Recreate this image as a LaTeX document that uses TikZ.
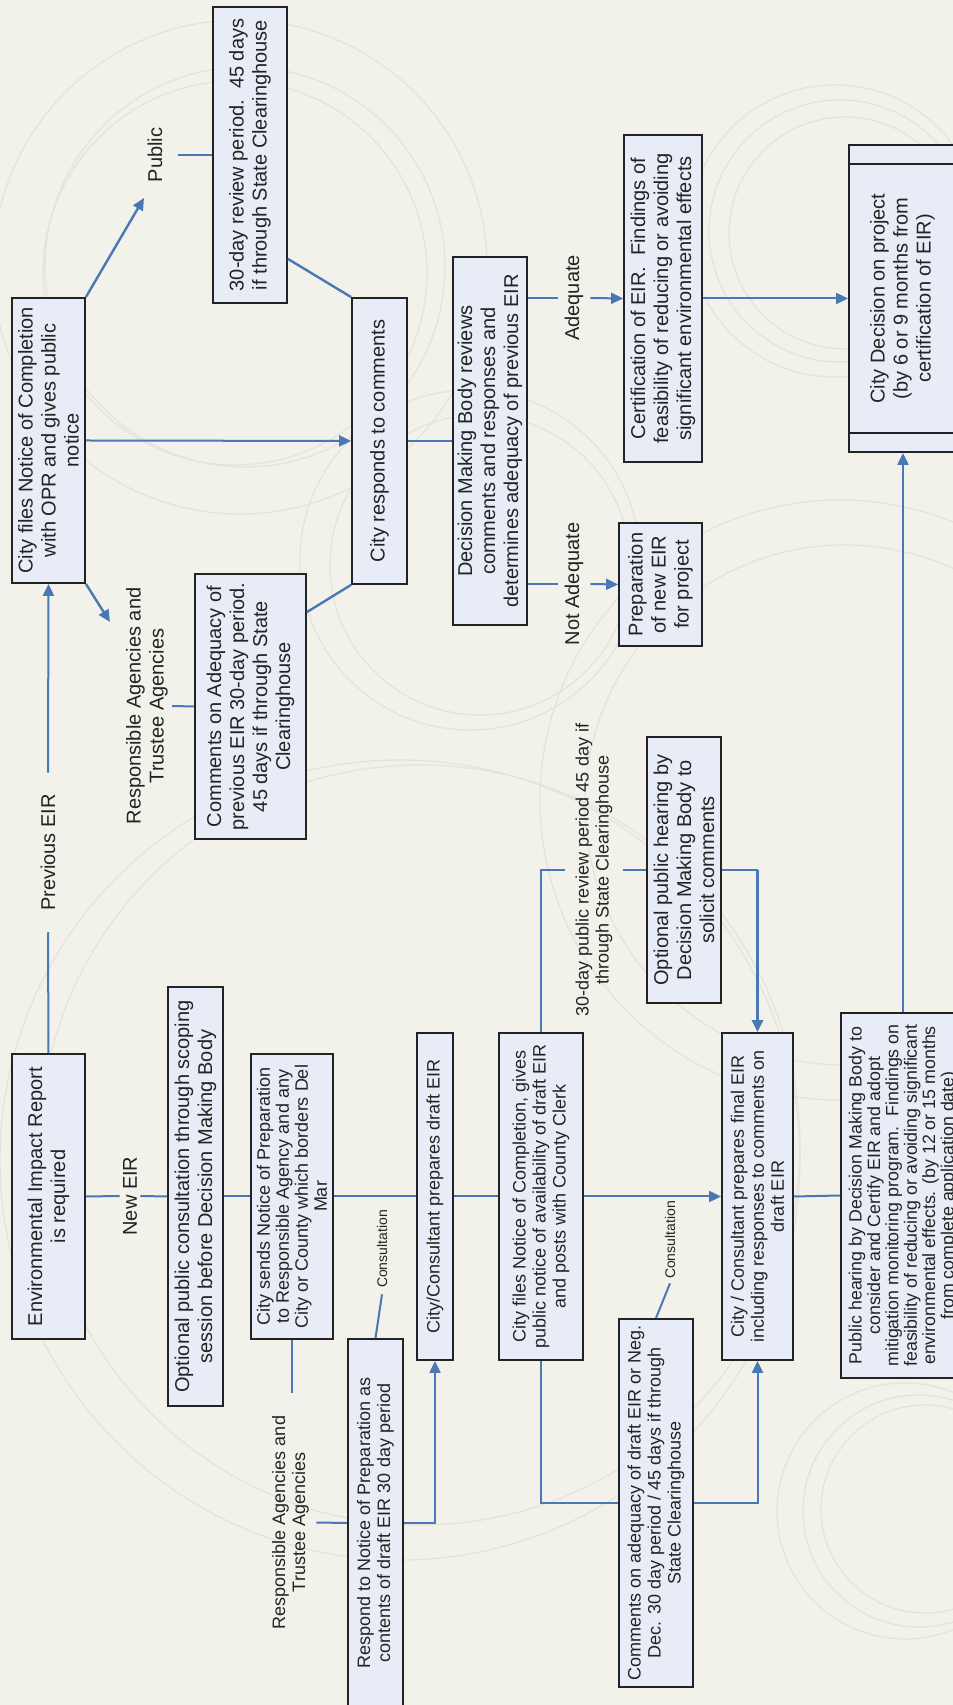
\documentclass[tikz,border=0pt]{standalone}
\usepackage{fontspec}
\setmainfont{Liberation Sans}
\usetikzlibrary{arrows.meta,calc}

\definecolor{paper}{RGB}{242,242,234}
\definecolor{boxfill}{RGB}{231,236,246}
\definecolor{boxline}{RGB}{35,35,35}
\definecolor{linkblue}{RGB}{74,120,180}
\definecolor{ring}{RGB}{228,228,220}
\definecolor{ink}{RGB}{35,35,35}

\begin{document}
\begin{tikzpicture}[x=0.5pt,y=0.5pt,
  sz/.style 2 args={minimum width=#1*0.5pt, minimum height=#2*0.5pt},
  box/.style={draw=boxline, fill=boxfill, line width=0.9pt, align=center, inner sep=0pt, text=ink},
  big/.style={font=\fontsize{10}{11.5}\selectfont},
  mid/.style={font=\fontsize{9}{10}\selectfont},
  lab/.style={inner sep=0pt, align=center, text=ink, font=\fontsize{10}{11.5}\selectfont},
  link/.style={draw=linkblue, line width=1pt},
  arr/.style={link, -{Triangle[length=6pt,width=5.5pt]}},
  ringline/.style={draw=ring, line width=0.65pt}]

\useasboundingbox (0,0) rectangle (953,1705);
\fill[paper] (0,0) rectangle (953,1705);
\clip (0,0) rectangle (953,1705);

% faint decorative rings in the background
\draw[ringline] (240,1438) circle (247);
\draw[ringline] (245,1438) circle (200);
\draw[ringline] (235,1432) circle (192);
\draw[ringline] (835,1474) circle (146);
\draw[ringline] (840,1474) circle (131);
\draw[ringline] (845,1472) circle (116);
\draw[ringline] (905,194) circle (128);
\draw[ringline] (919,194) circle (116);
\draw[ringline] (925,196) circle (104);
\draw[ringline] (400,545) circle (400);
\draw[ringline] (420,560) circle (380);
\draw[ringline] (840,905) circle (300);
\draw[ringline] (845,900) circle (260);
\draw[ringline] (470,1145) circle (170);
\draw[ringline] (480,1140) circle (150);

% the flow chart is laid out landscape and turned upright
\begin{scope}[rotate=90, transform shape]

% ---- process boxes
\node[box,big,sz={285}{73}] (cityOPR) at (1264.5,-48.5) {City files Notice of Completion\\with OPR and gives public\\notice};
\node[box,big,sz={296}{74}] (review30) at (1550,-250) {30-day review period.\ \ 45 days\\if through State Clearinghouse};
\node[box,big,sz={286}{55}] (responds) at (1264,-379.5) {City responds to comments};
\node[box,big,sz={368}{74}] (decision) at (1264,-490) {Decision Making Body reviews\\comments and responses and\\determines adequacy of previous EIR};
\node[box,big,sz={327}{78}] (cert) at (1406.5,-663) {Certification of EIR.\ \ Findings of\\feasibility of reducing or avoiding\\significant environmental effects};
\node[box,big,sz={307}{107}] (cityDecision) at (1406.5,-902.5) {City Decision on project\\(by 6 or 9 months from\\certification of EIR)};
\draw[boxline, line width=0.9pt] ($(cityDecision.south west)+(20,0)$) -- ($(cityDecision.north west)+(20,0)$);
\draw[boxline, line width=0.9pt] ($(cityDecision.south east)+(-20,0)$) -- ($(cityDecision.north east)+(-20,0)$);
\node[box,big,sz={265}{111}] (commentsPrev) at (998.5,-250.5) {Comments on Adequacy of\\previous EIR 30-day period.\\45 days if through State\\Clearinghouse};
\node[box,big,sz={123}{83}] (prep) at (1120.5,-660.5) {Preparation\\of new EIR\\for project};
\node[box,big,sz={266}{74}] (optHearing) at (835,-684) {Optional public hearing by\\Decision Making Body to\\solicit comments};
\node[box,mid,sz={327}{84}] (filesDraft) at (508.5,-541) {City files Notice of Completion, gives\\public notice of availability of draft EIR\\and posts with County Clerk};
\node[box,mid,sz={327}{71}] (finalEIR) at (508.5,-757.5) {City / Consultant prepares final EIR\\including responses to comments on\\draft EIR};
\node[box,font=\fontsize{8.9}{9.2}\selectfont,sz={365}{124}] (hearing) at (509.5,-903) {Public hearing by Decision Making Body to\\consider and Certify EIR and adopt\\mitigation monitoring program.\ \ Findings on\\feasibility of reducing or avoiding significant\\environmental effects. (by 12 or 15 months\\from complete application date)};
\node[box,mid,sz={368}{74}] (commentsDraft) at (202,-656) {Comments on adequacy of draft EIR or Neg.\\Dec. 30 day period / 45 days if through\\State Clearinghouse};
\node[box,big,sz={285}{73}] (eir) at (508.5,-48.5) {Environmental Impact Report\\is required};
\node[box,big,sz={419}{55}] (optConsult) at (508.5,-195.5) {Optional public consultation through scoping\\session before Decision Making Body};
\node[box,font=\fontsize{9}{9.5}\selectfont,sz={285}{82}] (sendsNOP) at (508.5,-292) {City sends Notice of Preparation\\to Responsible Agency and any\\City or County which borders Del\\Mar};
\node[box,mid,sz={327}{36}] (draftEIR) at (508.5,-435) {City/Consultant prepares draft EIR};
\node[box,mid,sz={368}{55}] (respond) at (182,-375.5) {Respond to Notice of Preparation as\\contents of draft EIR 30 day period};

% ---- free labels
\node[lab, inner xsep=7pt, inner ysep=7.4pt] (pub) at (1550,-155) {Public};
\node[lab, inner xsep=10.5pt, inner ysep=2pt] (prevEIR) at (852.5,-48) {Previous EIR};
\node[lab, inner xsep=3pt, inner ysep=2pt] (resp1) at (999,-147) {Responsible Agencies and\\Trustee Agencies};
\node[lab, inner ysep=3.3pt] (adeq) at (1407,-574) {Adequate};
\node[lab, inner ysep=3.3pt] (notadeq) at (1121,-574) {Not Adequate};
\node[lab, font=\fontsize{9}{10}\selectfont, inner ysep=5pt] (rev2) at (835,-594) {30-day public review period 45 day if\\through State Clearinghouse};
\node[lab, inner ysep=1.5pt] (newEIR) at (509,-130) {New EIR};
\node[lab, font=\fontsize{7}{8}\selectfont, inner xsep=3pt] (cons1) at (456,-382) {Consultation};
\node[lab, font=\fontsize{7}{8}\selectfont, inner xsep=2pt] (cons2) at (465,-670) {Consultation};
\node[lab, font=\fontsize{9}{10}\selectfont, inner xsep=11.5pt, inner ysep=3.5pt] (resp2) at (182.5,-290.5) {Responsible Agencies and\\Trustee Agencies};

\coordinate (pubTip) at (1507,-144);
\coordinate (respTip) at (1083,-110);

% ---- connectors: previous EIR branch
\draw[link] (eir.east) -- (prevEIR.west);
\draw[arr] (prevEIR.east) -- (cityOPR.west);
\draw[arr, line width=1.2pt] (cityOPR.south east) -- (pubTip);
\draw[link] (pub.south) -- (review30.north);
\draw[link, line width=1.2pt] ($(review30.south west)+(45,0)$) -- (responds.north east);
\draw[arr] (cityOPR.south) -- (responds.north);
\draw[arr, line width=1.2pt] (cityOPR.south west) -- (respTip);
\draw[link] (resp1.south) -- (commentsPrev.north);
\draw[link, line width=1.2pt] ($(commentsPrev.south east)+(-39,0)$) -- (responds.north west);
\draw[link] (responds.south) -- (decision.north);
\draw[link] (decision.south -| adeq.north) -- (adeq.north);
\draw[arr] (adeq.south) -- (cert.north);
\draw[link] (decision.south -| notadeq.north) -- (notadeq.north);
\draw[arr] (notadeq.south) -- (prep.north);
\draw[arr] (cert.south) -- (cityDecision.north);

% ---- connectors: new EIR branch
\draw[link] (eir.south) -- (newEIR.north);
\draw[link] (newEIR.south) -- (optConsult.north);
\draw[link] (optConsult.south) -- (sendsNOP.north);
\draw[link] (sendsNOP.south) -- (draftEIR.north);
\draw[link] (draftEIR.south) -- (filesDraft.north);
\draw[arr] (filesDraft.south) -- (finalEIR.north);
\draw[link] (finalEIR.south) -- (hearing.north);
\draw[arr] (hearing.east) -- (hearing.east -| cityDecision.west);
\draw[link] (sendsNOP.west) -- (sendsNOP.west -| resp2.east);
\draw[link] (resp2.south) -- (respond.north);
\draw[arr] (respond.south) |- (draftEIR.west);
\draw[link] (respond.east) -- (cons1.west);
\draw[link] (filesDraft.east) -| (rev2.north);
\draw[link] (rev2.south) -- (optHearing.north);
\draw[link] (optHearing.south) -- (optHearing.south |- finalEIR.east);
\draw[arr, line width=1.8pt] (optHearing.south |- finalEIR.east) -- (finalEIR.east);
\draw[link] (filesDraft.west) -| (commentsDraft.north);
\draw[arr] (commentsDraft.south) |- (finalEIR.west);
\draw[link] (commentsDraft.east) -- (cons2.west);

\end{scope}
\end{tikzpicture}
\end{document}
